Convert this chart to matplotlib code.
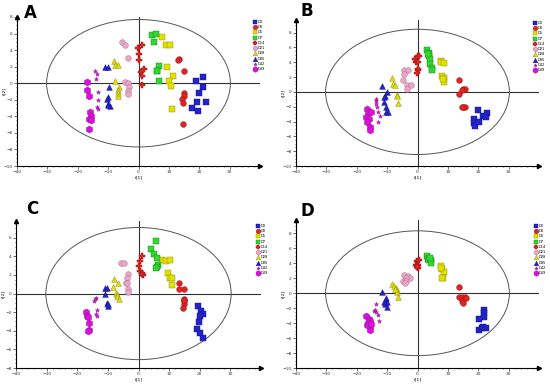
import matplotlib
matplotlib.use('Agg')
from matplotlib import pyplot as plt
from matplotlib.patches import Ellipse
from matplotlib.ticker import MultipleLocator

groups = ['D0', 'D3', 'D5', 'D7', 'D14', 'D21', 'D28', 'D35', 'D42', 'D49']

# score points, per group (t[1], t[2])
pts_a = {
    'D0': [(19.0, 0.3), (21.1, 0.7), (21.3, -0.5), (20.0, -1.2), (22.1, -2.3), (19.3, -2.3), (17.5, -3.0), (19.7, -3.3)],
    'D3': [(13.2, 2.9), (13.0, 2.8), (14.9, 1.5), (15.1, -1.2), (15.0, -1.5), (14.4, -1.9), (14.7, -2.4), (14.7, -4.9)],
    'D5': [(7.8, 5.6), (8.9, 4.6), (10.4, 4.6), (9.5, 1.9), (11.2, 0.9), (10.0, 0.3), (10.7, -0.3), (10.9, -3.1)],
    'D7': [(4.4, 5.8), (5.8, 6.0), (5.2, 5.0), (6.9, 2.1), (6.1, 1.5), (6.0, 1.5), (6.6, 0.3)],
    'D14': [(-0.2, 4.2), (1.1, 4.6), (0.1, 3.5), (0.3, 2.8), (1.8, 1.7), (0.7, 1.3), (1.3, 0.85), (1.0, -0.2)],
    'D21': [(-5.5, 5.0), (-4.5, 4.6), (-3.3, 3.0), (-4.4, 0.2), (-3.5, 0.0), (-3.1, -0.5), (-3.4, -0.9), (-3.6, -1.3)],
    'D28': [(-8.0, 2.7), (-7.9, 2.2), (-6.8, 2.2), (-7.7, 0.3), (-6.4, -0.5), (-6.9, -0.8), (-6.8, -1.2), (-6.9, -1.6)],
    'D35': [(-10.9, 2.0), (-10.2, 1.9), (-9.8, -0.5), (-10.2, -1.7), (-10.4, -1.9), (-10.0, -2.5), (-9.5, -2.7), (-10.2, -2.6)],
    'D42': [(-14.4, 1.5), (-13.8, 1.1), (-13.9, 0.5), (-13.4, -1.1), (-13.2, -2.0), (-13.7, -2.9), (-13.4, -3.1)],
    'D49': [(-17.0, 0.2), (-16.9, -0.8), (-16.2, -1.6), (-16.1, -3.5), (-15.8, -4.0), (-16.4, -4.3), (-15.8, -4.5), (-16.2, -5.5)],
}
pts_b = {
    'D0': [(20.0, -2.4), (21.6, -3.2), (22.9, -2.9), (22.4, -3.4), (18.6, -3.6), (18.7, -4.2), (18.9, -4.6), (20.4, -4.1)],
    'D3': [(13.5, 1.6), (15.1, 0.45), (15.6, 0.35), (14.8, 0.2), (13.7, -0.3), (15.0, -2.0), (15.6, -2.1), (14.7, -2.0)],
    'D5': [(7.6, 4.2), (7.9, 4.0), (8.8, 3.9), (8.2, 2.1), (8.8, 1.9), (8.7, 1.3), (8.5, 1.7)],
    'D7': [(3.0, 5.6), (3.7, 5.3), (3.8, 4.9), (4.1, 4.5), (4.2, 3.8), (4.8, 3.2), (4.8, 2.9), (3.5, 5.1)],
    'D14': [(-0.8, 4.5), (0.0, 4.8), (0.4, 4.9), (-0.4, 4.0), (0.0, 4.1), (0.0, 2.9), (0.2, 3.1), (-0.1, 2.6)],
    'D21': [(-4.6, 2.9), (-4.6, 2.4), (-3.0, 3.0), (-4.8, 1.6), (-3.5, 0.95), (-2.3, 0.9), (-3.6, 0.45)],
    'D28': [(-8.4, 1.85), (-8.1, 1.1), (-7.5, 0.9), (-6.6, -0.4), (-6.7, -0.6), (-6.3, -1.5)],
    'D35': [(-11.6, 0.75), (-10.0, -0.05), (-10.6, -0.5), (-10.9, -0.7), (-11.1, -1.4), (-10.4, -2.1), (-10.4, -2.7), (-9.8, -2.7)],
    'D42': [(-13.5, -0.9), (-13.7, -1.2), (-13.7, -1.6), (-13.4, -2.0), (-12.9, -2.7), (-12.5, -3.3), (-12.9, -4.1)],
    'D49': [(-16.7, -2.25), (-16.2, -2.9), (-15.4, -2.7), (-16.8, -3.4), (-16.0, -3.6), (-16.7, -4.0), (-15.5, -4.8), (-15.7, -5.2)],
}
pts_c = {
    'D0': [(19.4, -1.3), (20.3, -1.9), (21.2, -2.2), (20.2, -2.4), (19.6, -3.1), (19.1, -3.8), (20.0, -4.2), (21.0, -4.8)],
    'D3': [(13.2, 1.1), (14.8, 0.45), (13.1, 0.45), (15.0, -0.55), (14.8, -0.8), (14.7, -1.15), (14.6, -1.6), (15.0, -0.7)],
    'D5': [(7.7, 3.65), (8.9, 3.45), (10.3, 3.6), (9.5, 2.2), (10.2, 1.7), (10.8, 1.7), (10.8, 0.9)],
    'D7': [(4.2, 4.75), (5.7, 5.6), (5.1, 4.3), (6.1, 3.85), (6.3, 3.05), (6.0, 2.9), (5.7, 2.8)],
    'D14': [(1.0, 4.05), (0.1, 3.0), (0.4, 3.5), (0.5, 2.45), (1.1, 2.25), (1.6, 2.0), (1.0, 2.15)],
    'D21': [(-5.6, 3.3), (-4.6, 3.3), (-3.5, 2.05), (-3.8, 1.7), (-4.2, 1.1), (-3.7, 1.1), (-3.3, 0.45), (-3.4, 0.2)],
    'D28': [(-8.1, 1.55), (-6.8, 1.1), (-8.2, 0.7), (-7.5, 0.1), (-7.0, 0.0), (-7.1, -0.3), (-6.4, -0.6)],
    'D35': [(-11.0, 0.55), (-10.3, 0.55), (-11.0, 0.0), (-10.3, -1.0), (-10.0, -1.35), (-9.8, -1.1)],
    'D42': [(-13.8, -0.45), (-14.5, -0.85), (-13.4, -1.8), (-13.8, -2.2), (-13.6, -2.4), (-14.3, -0.6)],
    'D49': [(-17.3, -1.95), (-16.7, -2.4), (-16.4, -2.55), (-16.2, -3.15), (-16.2, -3.9), (-16.4, -4.0)],
}
pts_d = {
    'D0': [(21.9, -2.2), (22.0, -2.6), (22.0, -3.2), (20.2, -3.5), (20.3, -4.9), (21.1, -4.6), (21.7, -4.5), (22.7, -4.6)],
    'D3': [(13.5, 0.8), (13.6, -0.45), (14.5, -0.55), (15.5, -0.5), (14.8, -1.0), (15.0, -1.3), (15.9, -0.6)],
    'D5': [(7.7, 3.7), (8.0, 3.2), (8.7, 2.8), (8.4, 2.1), (8.2, 2.05), (7.9, 3.4)],
    'D7': [(3.0, 4.95), (3.5, 4.6), (3.8, 4.4), (4.3, 4.4), (4.4, 4.0), (4.1, 4.7)],
    'D14': [(-0.3, 4.3), (0.4, 4.4), (-0.5, 3.75), (0.0, 3.75), (0.2, 3.4), (-0.3, 3.5)],
    'D21': [(-4.6, 2.4), (-3.2, 2.35), (-2.5, 2.1), (-3.9, 2.05), (-4.8, 1.7), (-3.8, 1.7), (-4.2, 1.4)],
    'D28': [(-8.3, 1.3), (-7.8, 0.95), (-7.2, 0.7), (-6.9, 0.5), (-6.6, 0.2), (-6.4, -0.55), (-7.5, 0.6)],
    'D35': [(-11.6, 0.2), (-10.4, -0.7), (-10.7, -1.0), (-10.0, -1.15), (-10.6, -1.4), (-10.0, -1.8), (-10.9, -1.2)],
    'D42': [(-13.6, -1.5), (-14.4, -2.4), (-13.6, -2.5), (-12.9, -2.9), (-12.7, -3.7), (-14.0, -2.2)],
    'D49': [(-16.8, -3.1), (-15.9, -3.4), (-15.5, -3.75), (-16.4, -4.0), (-15.6, -4.4), (-15.7, -4.9), (-16.7, -4.3), (-15.4, -4.1)],
}

styles = {
    'D0': ('s', '#2323cc', '#10107a', 17),
    'D3': ('o', '#e02424', '#8a1010', 17),
    'D5': ('s', '#e2e200', '#8a8a00', 17),
    'D7': ('s', '#33d633', '#168016', 17),
    'D14': ('P', '#e02424', '#8a1010', 16),
    'D21': ('o', '#eaa6c6', '#a86a88', 17),
    'D28': ('^', '#dcdc10', '#8a8a00', 17),
    'D35': ('^', '#2323cc', '#10107a', 17),
    'D42': ('*', '#d618d6', '#8a108a', 10),
    'D49': ('h', '#dc10dc', '#8a108a', 26),
}

fig = plt.figure(figsize=(5.5, 3.85), dpi=100)
W, H = 550.0, 385.0

# (data, pixel box, ylim, ellipse half-height, letter, letter pos, legend pos)
panels = [
    (pts_a, (17, 219, 243, 149), (-10, 8.0), 7.7, 'A', (30, 372), (251, 367)),
    (pts_b, (296, 219, 243, 146), (-10, 9.7), 8.45, 'B', (307, 374), (531, 366)),
    (pts_c, (16, 17, 245, 147), (-8, 7.8), 7.1, 'C', (32, 176), (254, 163)),
    (pts_d, (296, 17, 243, 148), (-10, 9.8), 8.35, 'D', (307, 174), (532, 163)),
]

for data, box, ylim, eh, letter, lpos, legpos in panels:
    ax = fig.add_axes([box[0] / W, box[1] / H, box[2] / W, box[3] / H])
    ax.set_xlim(-40, 40)
    ax.set_ylim(*ylim)
    for s in ['top', 'right']:
        ax.spines[s].set_visible(False)
    for s in ['left', 'bottom']:
        ax.spines[s].set_linewidth(0.8)
    ax.plot(1, 0, '>k', ms=3, transform=ax.transAxes, clip_on=False)
    ax.plot(0, 1, '^k', ms=3, transform=ax.transAxes, clip_on=False)
    ax.axhline(0, color='#333333', lw=0.8, zorder=1)
    ax.axvline(0, color='#333333', lw=0.8, zorder=1)
    ax.add_patch(Ellipse((0, 0), 60.5, 2 * eh, fill=False, ec='#555555', lw=0.7, zorder=1))

    ax.set_xticks(range(-40, 31, 10))
    ax.set_yticks(range(int(ylim[0]), int(ylim[1]) + 1, 2))
    ax.xaxis.set_minor_locator(MultipleLocator(2))
    ax.yaxis.set_minor_locator(MultipleLocator(0.5))
    ax.tick_params(labelsize=3.2, length=2, width=0.5, pad=1, colors='#333333')
    ax.tick_params(which='minor', length=1, width=0.4)
    ax.set_xlabel('t[1]', fontsize=3.2, labelpad=1)
    ax.set_ylabel('t[2]', fontsize=3.2)
    ax.yaxis.set_label_coords(-0.045, 0.5)

    for g in groups:
        m, fc, ec, sz = styles[g]
        xs = [p[0] for p in data[g]]
        ys = [p[1] for p in data[g]]
        ax.scatter(xs, ys, marker=m, s=sz, c=fc, edgecolors=ec, linewidths=0.3, label=g, zorder=3)

    fig.text(lpos[0] / W, lpos[1] / H, letter, fontsize=12, fontweight='bold', va='center', ha='center')
    ax.legend(loc='upper left', bbox_to_anchor=(legpos[0] / W, legpos[1] / H), bbox_transform=fig.transFigure,
              fontsize=2.6, frameon=False, handletextpad=0.3, labelspacing=0.35, borderpad=0,
              handlelength=1, markerscale=0.8)

fig.savefig('out.png', dpi=100)
